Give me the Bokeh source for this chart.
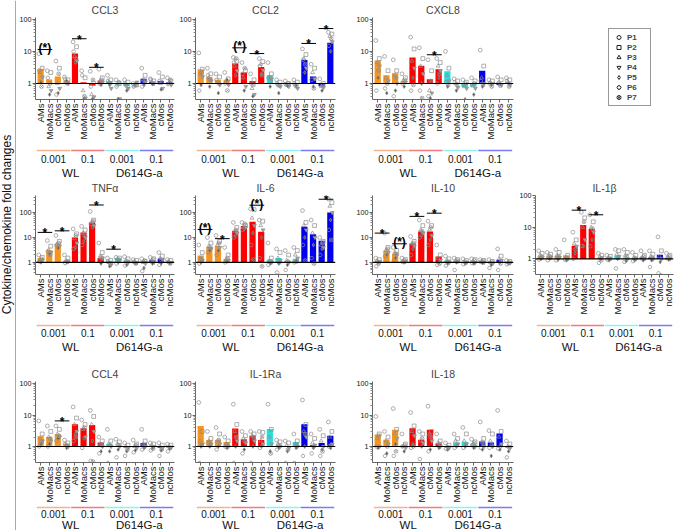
import math
from bokeh.plotting import figure
from bokeh.layouts import row, column
from bokeh.models import (Range1d, FixedTicker, Span, ColumnDataSource, Legend,
                          LegendItem, BasicTickFormatter)
from bokeh.transform import dodge
from bokeh.core.properties import value
from bokeh.embed import file_html
from bokeh.resources import INLINE

FONT = "Liberation Sans"

# ---------------- categories / labels ----------------
cells = ["AMs", "MoMacs", "cMos", "ncMos"]
mois = ["0.001", "0.1"]
strains = ["WL", "D614G-a"]
patients = ["P1", "P2", "P3", "P4", "P5", "P6", "P7"]
patient_markers = ["circle", "square", "triangle", "inverted_triangle", "diamond", "hex", "circle_x"]
patient_fill = [None, None, None, "#a0a0a0", "#555555", None, None]
patient_dodge = [-0.22, 0.18, -0.06, 0.22, 0.04, -0.16, 0.10]
group_colors = ["#F7941D", "#FF0000", "#22E0E0", "#0000EE"]
underline_colors = ["#F6B48E", "#F27B7B", "#8EF2F2", "#7B7BF2"]
y_ticks = [1, 10, 100]
y_label = "Cytokine/chemokine fold changes"

# ---------------- data (fold changes) ----------------
CCL3_bars = [2.9, 1.33, 1.65, 1.25, 8.7, 1.1, 0.87, 1.25, 1.2, 0.91, 0.83, 0.93, 1.4, 1.13, 1.2, 1.1]
CCL3_points = [[8.5, 3.0, 2.2, 1.6, 1.1, 2.5, 0.8], [2.5, 2.2, 0.8, 0.6, 0.45, 1.5, 1.0],
               [5.0, 3.0, 1.0, 0.7, 0.5, 0.45, 2.0], [1.6, 1.3, 1.1, 1.0, 1.2, 1.4, 1.0],
               [20, 14, 7, 5, 4.5, 10, 6], [2.5, 1.5, 0.6, 0.35, 0.33, 1.8, 0.4],
               [2.4, 1.0, 0.45, 0.38, 0.33, 0.8, 1.3], [2.8, 1.5, 1.2, 1.1, 0.9, 1.0, 1.3],
               [1.8, 1.3, 1.1, 0.7, 0.9, 1.2, 1.0], [1.3, 1.0, 0.9, 0.33, 0.33, 0.8, 1.1],
               [1.3, 1.1, 0.9, 0.7, 0.6, 1.0, 0.8], [1.0, 0.9, 0.85, 1.1, 0.95, 0.8, 0.9],
               [3.0, 1.8, 1.3, 1.1, 0.9, 0.8, 1.2], [1.4, 1.2, 1.1, 1.0, 0.95, 1.3, 1.0],
               [2.2, 1.6, 1.0, 0.7, 0.65, 1.2, 1.1], [1.5, 1.2, 1.0, 0.9, 1.1, 0.95, 1.3]]
CCL3_sig = [(0, 1, 11.5, "(*)"), (4, 5, 25, "*"), (6, 7, 3.2, "*")]

CCL2_bars = [2.8, 1.6, 1.3, 1.3, 4.2, 2.2, 1.2, 3.3, 1.8, 0.95, 0.95, 0.95, 5.4, 1.65, 0.83, 18.7]
CCL2_points = [[9, 2.8, 2.0, 1.6, 0.9, 0.6, 2.2], [3.0, 2.0, 1.5, 1.2, 0.8, 1.8, 1.3],
               [2.0, 1.6, 1.1, 0.9, 0.5, 1.3, 1.0], [2.2, 1.4, 1.1, 0.9, 1.3, 1.0, 0.6],
               [6.5, 5, 3.5, 2.5, 1.8, 4.5, 6], [4.5, 2.5, 1.5, 0.8, 0.6, 2.0, 3.0],
               [2.0, 1.3, 0.7, 0.45, 0.4, 1.0, 0.9], [6.0, 4.8, 4.0, 2.6, 2.0, 3.5, 1.8],
               [4.5, 2.0, 1.6, 1.4, 0.8, 1.5, 1.2], [1.3, 1.1, 0.9, 0.8, 0.5, 1.0, 0.85],
               [1.2, 1.0, 0.9, 0.8, 0.85, 0.95, 1.0], [1.3, 1.1, 0.9, 0.7, 0.85, 1.0, 0.8],
               [12, 8, 6, 3, 2.2, 5.5, 4], [4, 3, 2.2, 1.4, 0.8, 1.3, 0.7],
               [1.4, 1.0, 0.8, 0.75, 0.6, 0.9, 0.85], [40, 35, 30, 20, 10, 15, 25]]
CCL2_sig = [(4, 5, 13, "(*)"), (6, 7, 8.6, "*"), (12, 13, 17.8, "*"), (14, 15, 52, "*")]

CXCL8_bars = [5.2, 1.8, 2.1, 1.2, 6.5, 3.6, 1.35, 2.8, 2.4, 1.0, 0.77, 0.8, 2.5, 1.0, 0.9, 1.05]
CXCL8_points = [[22, 6, 4.5, 3.5, 1.5, 0.6, 2.5], [7, 2.5, 1.5, 1.2, 0.5, 0.7, 1.0],
                [5.5, 2.5, 1.8, 1.0, 0.6, 0.4, 1.5], [2.0, 1.5, 1.2, 1.1, 0.8, 1.0, 1.3],
                [28, 12, 5, 3, 1.5, 0.6, 0.9], [13, 6, 3.5, 2, 1.0, 0.6, 0.35],
                [5.5, 2.5, 0.6, 0.5, 0.35, 0.4, 1.2], [6, 4.5, 3.5, 2.5, 1.5, 1.0, 2.0],
                [10, 3, 1.8, 1.2, 0.8, 1.1, 0.9], [1.4, 1.2, 1.0, 0.75, 0.6, 1.1, 0.9],
                [1.3, 1.1, 0.8, 0.7, 0.32, 0.9, 1.0], [1.5, 1.2, 0.85, 0.7, 0.45, 0.9, 1.0],
                [11, 3.5, 1.5, 1.0, 0.8, 1.2, 0.9], [1.3, 1.2, 1.1, 1.0, 0.9, 1.0, 0.8],
                [1.6, 1.3, 1.1, 0.9, 0.95, 1.0, 0.85], [1.5, 1.3, 1.1, 0.9, 1.0, 1.2, 0.8]]
CXCL8_sig = [(6, 7, 7.9, "*")]

TNFa_bars = [1.5, 3.1, 5.4, 1.2, 10, 16, 40, 1.5, 1.17, 1.5, 1.2, 1.1, 1.1, 1.25, 1.45, 1.1]
TNFa_points = [[2.0, 1.6, 1.3, 1.2, 1.0, 1.1, 1.4], [7.5, 4.5, 3.2, 2.5, 2.2, 2.8, 2.0],
               [12, 7, 5.5, 4.5, 3.8, 5, 6], [2.0, 1.5, 1.2, 1.1, 1.0, 0.95, 1.1],
               [22, 14, 9, 6, 4, 3.5, 12], [28, 20, 15, 10, 7, 5, 12],
               [110, 50, 40, 30, 25, 35, 45], [6, 2.5, 1.8, 1.5, 0.9, 1.2, 1.6],
               [1.5, 1.2, 1.0, 0.8, 0.7, 1.1, 0.9], [1.6, 1.5, 1.4, 1.2, 1.0, 0.9, 1.3],
               [1.7, 1.4, 1.2, 1.0, 0.8, 0.75, 1.1], [1.3, 1.2, 1.1, 1.0, 0.95, 1.05, 0.9],
               [1.4, 1.1, 1.0, 0.9, 0.6, 0.45, 1.2], [1.6, 1.4, 1.2, 1.0, 0.9, 1.1, 1.3],
               [2.5, 1.8, 1.5, 1.3, 0.9, 0.8, 1.2], [1.3, 1.2, 1.1, 1.0, 0.95, 1.05, 0.9]]
TNFa_sig = [(0, 1, 16, "*"), (2, 3, 18.5, "*"), (6, 7, 200, "*"), (8, 9, 3.4, "*")]

IL6_bars = [1.9, 4.2, 4.6, 1.4, 18.5, 29, 43, 17, 1.28, 1.5, 1.1, 1.4, 27, 13.5, 7.4, 100]
IL6_points = [[5, 2.5, 1.5, 1.2, 1.0, 0.9, 1.3], [10, 6, 4.5, 3.5, 3.0, 2.5, 4],
              [12, 7, 5, 4, 3, 2, 6], [4, 2.0, 1.3, 1.2, 1.1, 1.0, 1.5],
              [40, 25, 18, 15, 12, 10, 20], [40, 30, 27, 25, 22, 20, 35],
              [140, 130, 60, 30, 15, 5, 1.3], [50, 45, 30, 20, 10, 1.5, 0.7],
              [6, 1.5, 1.2, 1.0, 0.9, 0.8, 1.1], [3.5, 2.5, 1.5, 1.2, 0.9, 0.4, 1.0],
              [3, 2.0, 1.2, 1.0, 0.8, 0.5, 1.1], [4, 3, 2, 1.5, 1.2, 1.0, 1.1],
              [120, 40, 30, 20, 10, 5, 1.2], [50, 30, 15, 10, 5, 1.5, 0.9],
              [10, 7, 5, 4, 3.5, 2, 6], [350, 250, 180, 100, 50, 20, 8]]
IL6_sig = [(0, 1, 21, "(*)"), (2, 3, 9, "*"), (6, 7, 196, "(*)"), (14, 15, 340, "*")]

IL10_bars = [1.2, 3.0, 2.2, 1.2, 5.8, 17.4, 17.4, 1.75, 1.2, 1.15, 1.05, 1.12, 1.1, 1.05, 1.3, 1.0]
IL10_points = [[1.5, 1.3, 1.2, 1.1, 1.0, 0.7, 0.9], [15, 4, 3, 2.5, 2.0, 1.8, 3.5],
               [4, 3, 2.5, 2, 1.5, 1.2, 2.2], [1.5, 1.3, 1.2, 1.1, 1.0, 1.05, 1.2],
               [11, 7, 5.5, 4.5, 3.5, 2, 6], [50, 30, 20, 15, 12, 10, 18],
               [45, 30, 20, 12, 8, 5, 25], [5, 2, 1.5, 1.2, 1.0, 0.8, 0.9],
               [1.8, 1.4, 1.2, 1.0, 0.9, 0.75, 1.1], [1.5, 1.3, 1.2, 1.1, 1.0, 0.5, 1.2],
               [1.4, 1.2, 1.1, 1.0, 0.9, 0.85, 1.05], [1.4, 1.3, 1.1, 1.0, 0.9, 0.95, 1.2],
               [1.3, 1.2, 1.1, 1.0, 0.95, 1.05, 1.15], [1.3, 1.1, 1.0, 0.9, 0.8, 0.6, 1.05],
               [3.5, 1.8, 1.4, 1.2, 1.0, 0.5, 0.9], [1.2, 1.1, 1.0, 0.95, 0.9, 0.85, 1.0]]
IL10_sig = [(0, 1, 15, "*"), (2, 3, 5.6, "(*)"), (4, 5, 70, "*"), (6, 7, 94, "*")]

IL1b_bars = [1.2, 1.2, 1.25, 1.3, 2.6, 11.8, 8.9, 1.05, 1.1, 1.25, 1.1, 1.05, 1.1, 1.1, 1.35, 1.05]
IL1b_points = [[1.8, 1.5, 1.3, 1.1, 1.0, 0.95, 1.2], [1.6, 1.4, 1.3, 1.1, 1.0, 0.9, 1.2],
               [2.0, 1.6, 1.3, 1.1, 0.95, 0.9, 1.2], [4, 1.3, 1.1, 1.0, 0.9, 0.95, 1.05],
               [7, 4, 3, 2.5, 1.5, 1.0, 2.0], [30, 20, 10, 4, 2.5, 2.6, 15],
               [25, 15, 10, 7, 4, 2.5, 9], [1.5, 1.3, 1.2, 1.1, 1.0, 0.75, 0.9],
               [1.3, 1.2, 1.1, 1.0, 0.9, 0.95, 1.05], [2.0, 1.8, 1.4, 1.2, 1.0, 0.5, 1.1],
               [2.0, 1.6, 1.3, 1.0, 0.85, 0.8, 1.2], [1.6, 1.3, 1.1, 1.0, 0.9, 0.85, 1.05],
               [1.8, 1.3, 1.1, 1.0, 0.9, 1.05, 1.2], [1.8, 1.4, 1.2, 1.0, 0.9, 0.55, 1.1],
               [5, 1.8, 1.2, 1.0, 0.8, 0.35, 0.3], [1.5, 1.3, 1.1, 1.0, 0.95, 1.05, 1.2]]
IL1b_sig = [(4, 5, 35, "*"), (6, 7, 25, "*")]

CCL4_bars = [2.1, 2.0, 2.45, 1.25, 5.1, 3.8, 4.8, 1.35, 1.2, 1.05, 0.9, 1.0, 1.3, 1.05, 0.9, 0.95]
CCL4_points = [[6.5, 2.5, 1.8, 1.5, 1.2, 1.0, 1.4], [4.5, 3, 2, 1.5, 1.2, 1.0, 1.8],
               [4.5, 3.5, 2.5, 2.0, 1.8, 1.5, 2.2], [1.6, 1.3, 1.1, 1.0, 0.9, 1.2, 1.05],
               [18, 8, 5, 3, 2.5, 1.5, 2.0], [7, 5, 3.5, 2, 1.8, 0.9, 4],
               [14, 9, 5, 3, 1.5, 0.35, 0.33], [2.0, 1.5, 1.2, 1.0, 0.7, 0.6, 1.1],
               [3.5, 1.5, 1.2, 1.0, 0.7, 0.3, 1.1], [1.7, 1.4, 1.2, 1.0, 0.8, 0.45, 1.1],
               [1.3, 1.1, 1.0, 0.9, 0.7, 0.5, 0.8], [1.6, 1.2, 1.0, 0.9, 0.75, 0.65, 1.1],
               [3.5, 1.5, 1.2, 1.0, 0.9, 0.8, 1.1], [1.3, 1.2, 1.1, 1.0, 0.9, 0.75, 0.85],
               [1.3, 1.1, 1.0, 0.9, 0.75, 0.5, 0.8], [1.2, 1.1, 1.0, 0.95, 0.85, 0.7, 0.9]]
CCL4_sig = [(2, 3, 6.5, "*")]

IL1Ra_bars = [4.5, 1.6, 1.6, 1.4, 3.7, 1.7, 2.2, 1.6, 3.6, 1.1, 1.0, 1.4, 5.1, 1.1, 1.3, 2.2]
IL1Ra_points = [[25, 3, 1.5, 1.2, 1.0, 0.3, 1.1], [3, 1.8, 1.5, 1.2, 1.0, 1.3, 1.1],
                [4, 2.5, 1.5, 1.2, 1.0, 0.8, 1.6], [2.0, 1.5, 1.2, 1.0, 0.9, 1.0, 1.1],
                [22, 5, 3, 1.5, 1.0, 0.3, 2.0], [3, 2.2, 1.8, 1.3, 0.8, 0.6, 1.5],
                [3, 2.5, 2.2, 1.5, 1.0, 0.3, 2.0], [3, 2.8, 1.5, 1.2, 1.0, 0.9, 2.0],
                [22, 3.5, 2, 1.2, 0.7, 0.3, 0.6], [1.6, 1.4, 1.2, 1.0, 0.9, 0.8, 1.1],
                [1.5, 1.3, 1.1, 0.9, 0.7, 0.3, 0.8], [2.5, 1.5, 1.2, 1.0, 0.9, 0.3, 1.1],
                [30, 5, 3, 2, 1.0, 0.5, 2.5], [2.5, 1.8, 1.3, 1.1, 0.9, 0.6, 1.0],
                [3.5, 2.2, 1.5, 1.0, 0.8, 0.5, 0.7], [6, 3, 2, 1.2, 0.9, 1.0, 1.1]]
IL1Ra_sig = []

IL18_bars = [2.4, 1.65, 3.4, 1.1, 3.8, 1.65, 3.4, 1.25, 0.95, 1.35, 1.4, 1.15, 1.45, 1.35, 2.6, 0.95]
IL18_points = [[9, 2.5, 1.8, 1.0, 0.9, 1.0, 2.2], [3, 2.0, 1.5, 1.2, 0.6, 0.5, 1.0],
               [16, 3.5, 2.5, 1.8, 1.2, 0.5, 0.7], [2.5, 1.2, 1.0, 0.9, 0.7, 1.0, 1.1],
               [12, 4.5, 3, 2.2, 1.2, 0.9, 1.0], [3, 2.5, 1.5, 1.3, 1.0, 0.4, 1.8],
               [19, 3, 2.5, 1.5, 0.8, 0.7, 2.0], [2.5, 1.5, 1.3, 1.0, 0.9, 1.1, 1.2],
               [1.3, 1.1, 1.0, 0.9, 0.8, 0.85, 0.95], [2.5, 1.8, 1.5, 1.2, 1.0, 0.9, 1.1],
               [4, 2.5, 1.5, 1.2, 1.0, 0.9, 1.1], [1.7, 1.4, 1.2, 1.0, 0.9, 1.1, 1.3],
               [6, 1.8, 1.4, 1.0, 0.8, 0.9, 1.2], [3.2, 2.5, 1.5, 1.0, 0.5, 0.9, 1.1],
               [14, 3, 2.0, 1.2, 0.8, 0.85, 1.0], [1.5, 1.2, 1.0, 0.9, 0.7, 0.45, 0.95]]
IL18_sig = []

# ---------------- derived structure ----------------
bar_cells, bar_groups = [], []
for s in strains:
    for m in mois:
        for c in cells:
            bar_cells.append(c)
            bar_groups.append((s, m))
positions = list(range(len(bar_cells)))
groups = list(dict.fromkeys(bar_groups))
bar_group_idx = [groups.index(g) for g in bar_groups]
bar_colors = [group_colors[i] for i in bar_group_idx]

minor_ticks = [k * 10.0 ** e for e in range(-1, 3) for k in range(2, 10)]


def donor_source(pts, k):
    return ColumnDataSource(dict(x=positions, y=[pts[i][k] for i in positions]))


def make_panel(title, bars, pts, sig, yr, bl, br, fw, bt, fh, bb, gh, offs):
    line_off, moi_off, strain_off = offs
    p = figure(width=bl + fw + br, height=bt + fh + bb, title=title,
               x_range=Range1d(-0.6, 15.6), y_range=Range1d(*yr), y_axis_type="log",
               output_backend="svg", toolbar_location=None,
               min_border_left=bl, min_border_right=br, min_border_top=bt, min_border_bottom=bb)
    p.title.align = "center"
    p.title.text_font = FONT
    p.title.text_font_size = "10.5px"
    p.title.text_font_style = "normal"
    p.title.standoff = 2.5
    p.grid.visible = False
    p.outline_line_color = None
    p.background_fill_color = "white"

    p.xaxis.ticker = FixedTicker(ticks=positions, minor_ticks=[])
    p.xaxis.major_label_overrides = {pos: c for pos, c in zip(positions, bar_cells)}
    p.xaxis.major_label_orientation = math.pi / 2
    p.xaxis.major_label_text_font = FONT
    p.xaxis.major_label_text_font_size = "9.5px"
    p.xaxis.major_label_text_color = "#111111"
    p.xaxis.major_label_standoff = 1
    p.xaxis.major_tick_out = 3
    p.xaxis.major_tick_in = 0
    p.xaxis.axis_line_color = "#666666"
    p.xaxis.major_tick_line_color = "#666666"

    p.yaxis.ticker = FixedTicker(ticks=y_ticks, minor_ticks=minor_ticks)
    p.yaxis.formatter = BasicTickFormatter()
    p.yaxis.major_label_text_font = FONT
    p.yaxis.major_label_text_font_size = "7.2px"
    p.yaxis.major_label_text_color = "#111111"
    p.yaxis.major_label_standoff = 1
    p.yaxis.major_tick_out = 3
    p.yaxis.major_tick_in = 0
    p.yaxis.minor_tick_out = 2
    p.yaxis.minor_tick_in = 0
    p.yaxis.axis_line_color = "#666666"
    p.yaxis.major_tick_line_color = "#666666"
    p.yaxis.minor_tick_line_color = "#888888"

    src = ColumnDataSource(dict(x=positions, top=bars, color=bar_colors))
    p.vbar(x="x", top="top", bottom=1, width=0.72, fill_color="color", line_color=None, source=src)

    for k in range(len(patients)):
        p.scatter(x=dodge("x", patient_dodge[k]), y="y", source=donor_source(pts, k),
                  marker=patient_markers[k], size=3.8, line_color="#8c8c8c", line_width=0.7,
                  fill_color=patient_fill[k] if patient_fill[k] else None)

    p.add_layout(Span(location=1, dimension="width", line_color="black", line_width=1.2))

    if sig:
        ssrc = ColumnDataSource(dict(
            x0=[positions[a] - 0.35 for a, b, y, t in sig],
            x1=[positions[b] + 0.35 for a, b, y, t in sig],
            xm=[(positions[a] + positions[b]) / 2 for a, b, y, t in sig],
            y=[y for a, b, y, t in sig],
            t=[t for a, b, y, t in sig],
            yoff=[1 if t == "*" else -1.5 for a, b, y, t in sig]))
        p.segment(x0="x0", x1="x1", y0="y", y1="y", line_color="black", line_width=1, source=ssrc)
        p.text(x="xm", y="y", text="t", y_offset="yoff", source=ssrc, text_align="center",
               text_baseline="alphabetic", text_font=value(FONT), text_font_size="12px",
               text_font_style="bold", text_color="black")

    g = figure(width=bl + fw + br, height=gh, x_range=p.x_range, y_range=Range1d(0, gh),
               x_axis_location=None, y_axis_location=None, output_backend="svg",
               toolbar_location=None, min_border_left=bl, min_border_right=br,
               min_border_top=0, min_border_bottom=0)
    g.grid.visible = False
    g.outline_line_color = None
    gx0, gx1, gxc, glab = [], [], [], []
    for gi, (s, m) in enumerate(groups):
        members = [pos for pos, gg in zip(positions, bar_group_idx) if gg == gi]
        gx0.append(min(members) - 0.45)
        gx1.append(max(members) + 0.45)
        gxc.append((min(members) + max(members)) / 2)
        glab.append(m)
    g.segment(x0=gx0, x1=gx1, y0=[gh - line_off] * len(gx0), y1=[gh - line_off] * len(gx0),
              line_color=underline_colors, line_width=1.6)
    g.text(x=gxc, y=[gh - moi_off] * len(gxc), text=glab, text_align="center",
           text_baseline="middle", text_font=value(FONT), text_font_size="10px", text_color="#111111")
    sx = []
    for s in strains:
        members = [pos for pos, gg in zip(positions, bar_groups) if gg[0] == s]
        sx.append((min(members) + max(members)) / 2)
    g.text(x=sx, y=[gh - strain_off] * len(sx), text=strains, text_align="center",
           text_baseline="middle", text_font=value(FONT), text_font_size="11.5px", text_color="#111111")
    return column(p, g)


# column geometry: (border_left, border_right, frame_width)
cols = [(16, 2, 142), (17, 3, 142), (34, 3, 141), (18, 3, 139)]
# row geometry: (border_top, frame_height, border_bottom, strip_height, strip offsets)
rows = [(17, 82, 48, 31, (3, 11, 25)),
        (17, 79, 48, 33, (3, 10, 24)),
        (26, 81, 43, 25, (2, 8, 19))]

r1 = [("CCL3", CCL3_bars, CCL3_points, CCL3_sig, (0.316, 115)),
      ("CCL2", CCL2_bars, CCL2_points, CCL2_sig, (0.316, 115)),
      ("CXCL8", CXCL8_bars, CXCL8_points, CXCL8_sig, (0.316, 115))]
r2 = [("TNFα", TNFa_bars, TNFa_points, TNFa_sig, (0.33, 480)),
      ("IL-6", IL6_bars, IL6_points, IL6_sig, (0.33, 480)),
      ("IL-10", IL10_bars, IL10_points, IL10_sig, (0.33, 480)),
      ("IL-1β", IL1b_bars, IL1b_points, IL1b_sig, (0.32, 102))]
r3 = [("CCL4", CCL4_bars, CCL4_points, CCL4_sig, (0.31, 116)),
      ("IL-1Ra", IL1Ra_bars, IL1Ra_points, IL1Ra_sig, (0.31, 116)),
      ("IL-18", IL18_bars, IL18_points, IL18_sig, (0.31, 116))]

layout_rows = []
for ri, specs in enumerate([r1, r2, r3]):
    bt, fh, bb, gh, offs = rows[ri]
    items = []
    for ci, (t, b, pt, sg, yr) in enumerate(specs):
        bl, br, fw = cols[ci]
        items.append(make_panel(t, b, pt, sg, yr, bl, br, fw, bt, fh, bb, gh, offs))
    if ri == 0:
        bl, br, fw = cols[3]
        lw, lh = bl + fw + br, bt + fh + bb + gh
        # legend panel: donor renderers kept out of view, only their legend entries show
        lf = figure(width=lw, height=lh, x_range=Range1d(100, 101), y_range=Range1d(100, 101),
                    x_axis_location=None, y_axis_location=None, output_backend="svg",
                    toolbar_location=None, min_border=0)
        lf.grid.visible = False
        lf.outline_line_color = None
        litems = []
        for k, (name, m) in enumerate(zip(patients, patient_markers)):
            rr = lf.scatter(x="x", y="y", source=donor_source(CCL3_points, k), marker=m, size=7,
                            line_color="#222222", fill_color=None, line_width=1)
            litems.append(LegendItem(label=name, renderers=[rr]))
        leg = Legend(items=litems, location=(92, 72), border_line_color="#333333",
                     border_line_width=1.5, background_fill_color="white",
                     label_text_font=FONT, label_text_font_size="8px", label_text_font_style="bold",
                     glyph_height=10, glyph_width=13, label_height=10, spacing=0,
                     padding=3, margin=0, label_standoff=2)
        lf.add_layout(leg)
        items.append(lf)
    layout_rows.append(row(*items))

total_h = sum(r[0] + r[1] + r[2] + r[3] for r in rows)
yl = figure(width=16, height=total_h, x_range=Range1d(0, 16), y_range=Range1d(0, total_h),
            x_axis_location=None, y_axis_location=None, output_backend="svg",
            toolbar_location=None, min_border=0)
yl.grid.visible = False
yl.outline_line_color = None
yl.text(x=[6], y=[total_h - 224], text=[y_label], angle=math.pi / 2, text_align="center",
        text_baseline="middle", text_font=value(FONT), text_font_size="12px", text_color="#111111")
yl.segment(x0=[15.5], x1=[15.5], y0=[0], y1=[total_h], line_color="#555555", line_width=1)

page = row(yl, column(*layout_rows))

open("out.html", "w").write(file_html(page, INLINE))
